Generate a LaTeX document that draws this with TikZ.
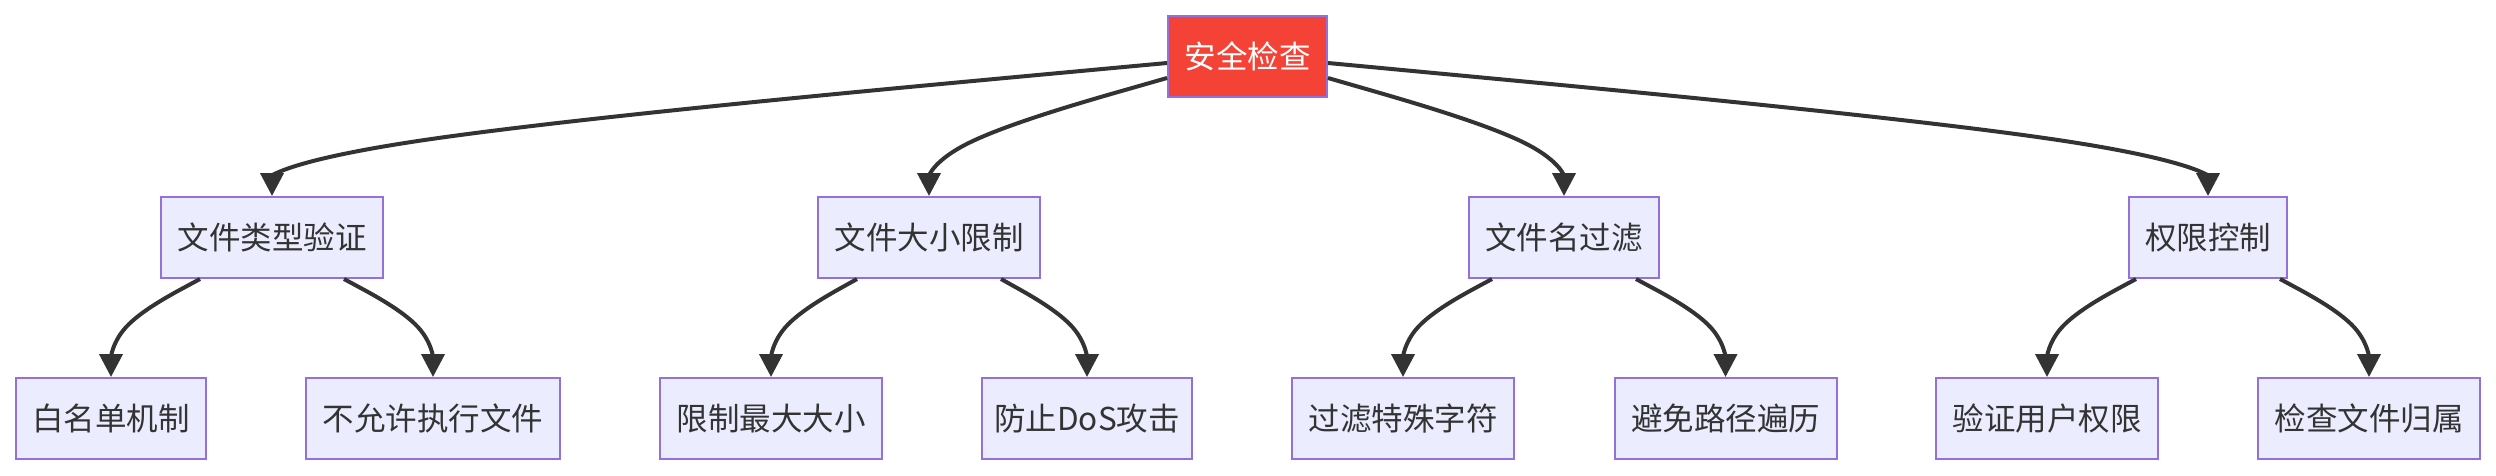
\documentclass[tikz,border=0pt]{standalone}
\usepackage{fontspec}
\setmainfont{Noto Sans CJK SC}
\usetikzlibrary{arrows.meta,calc}
\definecolor{nodefill}{HTML}{ECECFF}
\definecolor{nodeborder}{HTML}{9370DB}
\definecolor{edgecol}{HTML}{333333}
\definecolor{topfill}{HTML}{F44336}
\tikzset{
  box/.style={draw=nodeborder, line width=2pt, fill=nodefill, text=edgecol,
    minimum height=81pt, inner sep=0pt, font=\fontsize{31.5}{38}\selectfont},
  topbox/.style={box, fill=topfill, text=white},
  edge/.style={draw=edgecol, line width=4pt, -{Triangle[length=23pt,width=23pt]}},
}
% basis-like curve: start, middle, end
\newcommand\bedge[3]{%
  \coordinate (bm) at ($(#1)!.5!(#3)$);
  \draw[edge] (#1) -- ($(#1)!1/6!(#2)$)
    .. controls ($(#1)!1/3!(#2)$) and ($(#1)!2/3!(#2)$) .. ($(#2)!1/3!(bm)$)
    .. controls ($(#2)!1/3!(#3)$) and ($(#2)!2/3!(#3)$) .. (#3);
}
\begin{document}
\begin{tikzpicture}[x=1pt,y=-1pt]
\useasboundingbox (0,0) rectangle (2496,475);
% top
\node[topbox, minimum width=159pt] (top) at (1247.5,56.5) {安全检查};
% level 1
\node[box, minimum width=222pt] (A) at (272,237.5) {文件类型验证};
\node[box, minimum width=222pt] (B) at (929,237.5) {文件大小限制};
\node[box, minimum width=190pt] (C) at (1564,237.5) {文件名过滤};
\node[box, minimum width=158pt] (D) at (2208,237.5) {权限控制};
% level 2
\node[box, minimum width=190pt] (A1) at (111,418.5) {白名单机制};
\node[box, minimum width=254pt] (A2) at (433,418.5) {不允许执行文件};
\node[box, minimum width=222pt] (B1) at (771,418.5) {限制最大大小};
\node[box, minimum width=210pt] (B2) at (1087,418.5) {防止DoS攻击};
\node[box, minimum width=222pt] (C1) at (1403,418.5) {过滤特殊字符};
\node[box, minimum width=222pt] (C2) at (1725.5,418.5) {避免路径遍历};
\node[box, minimum width=222pt] (D1) at (2047,418.5) {验证用户权限};
\node[box, minimum width=222pt] (D2) at (2369,418.5) {检查文件归属};

% top edges
\coordinate (tA) at ($(top.west)+(0,6.5)$);
\coordinate (tB) at ($(top.west)+(0,21.5)$);
\coordinate (tC) at ($(top.east)+(0,21.5)$);
\coordinate (tD) at ($(top.east)+(0,6.5)$);
\coordinate (mA) at ($(A.north)+(0,-50)$);
\coordinate (mB) at ($(B.north)+(0,-50)$);
\coordinate (mC) at ($(C.north)+(0,-50)$);
\coordinate (mD) at ($(D.north)+(0,-50)$);
\bedge{tA}{mA}{A.north}
\bedge{tB}{mB}{B.north}
\bedge{tC}{mC}{C.north}
\bedge{tD}{mD}{D.north}

% second-level edges
\foreach \p/\l/\r in {A/A1/A2, B/B1/B2, C/C1/C2, D/D1/D2}{
  \coordinate (s1) at ($(\p.south)+(-72,0)$);
  \coordinate (s2) at ($(\p.south)+(72,0)$);
  \coordinate (m1) at ($(\l.north)+(0,-50)$);
  \coordinate (m2) at ($(\r.north)+(0,-50)$);
  \bedge{s1}{m1}{\l.north}
  \bedge{s2}{m2}{\r.north}
}
\end{tikzpicture}
\end{document}
